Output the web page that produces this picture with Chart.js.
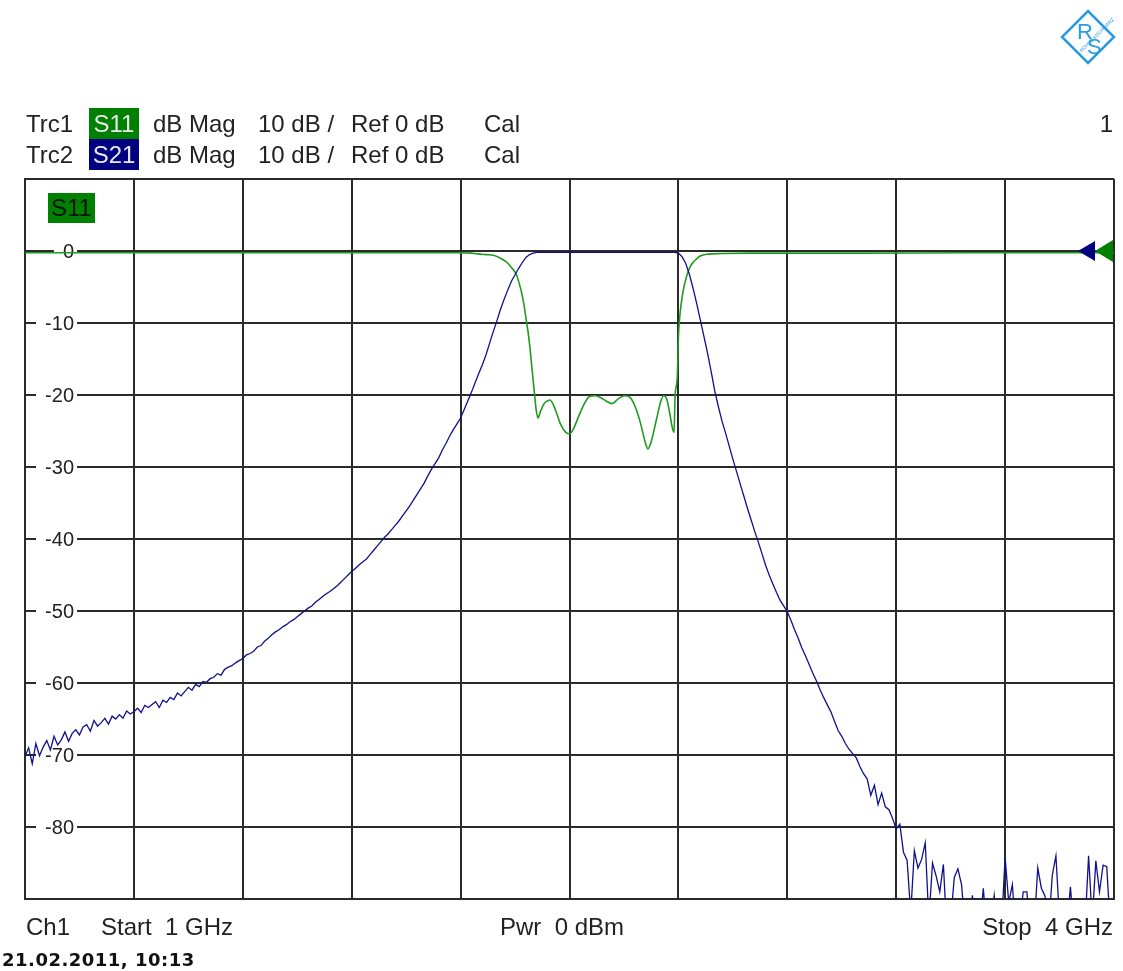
<!DOCTYPE html>
<html>
<head>
<meta charset="utf-8">
<script src="https://cdn.jsdelivr.net/npm/chart.js@4.4.1/dist/chart.umd.min.js"></script>
<style>
  body { margin: 0; background: #fff; }
  #hoja { position: relative; width: 1123px; height: 971px; background: #fff; overflow: hidden; }
  #grafico { position: absolute; left: 0; top: 0; }
  .t { position: absolute; font-family: "Liberation Sans", Arial, sans-serif; font-size: 24px; color: #222; white-space: pre; height: 31px; line-height: 31px; }
  .caja { text-align: center; width: 50px; color: #e8e8e8; }
  #fecha { position: absolute; left: 2px; top: 949px; font-family: "DejaVu Sans", sans-serif; font-weight: bold; font-size: 18px; color: #111; letter-spacing: 0.5px; }
</style>
</head>
<body>
<div id="hoja">
  <canvas id="grafico" width="1123" height="971"></canvas>

  <svg style="position:absolute;left:1060px;top:9px" width="56" height="56" viewBox="0 0 56 56">
    <polygon points="28,2 54,28 28,54 2,28" fill="none" stroke="#2b9be0" stroke-width="2.5"/>
    <text x="17" y="30" font-family="Liberation Sans" font-size="22" fill="#2b9be0">R</text>
    <text x="27" y="45" font-family="Liberation Sans" font-size="22" fill="#2b9be0">S</text>
    <text x="16" y="36" font-family="Liberation Sans" font-size="5" fill="#2b9be0" transform="rotate(-45 28 33)">ROHDE&amp;SCHWARZ</text>
  </svg>

  <div class="t" style="left:26px;top:108px">Trc1</div>
  <div class="t caja" style="left:89px;top:108px;background:#008000">S11</div>
  <div class="t" style="left:153px;top:108px">dB Mag</div>
  <div class="t" style="left:258px;top:108px">10 dB /</div>
  <div class="t" style="left:351px;top:108px">Ref 0 dB</div>
  <div class="t" style="left:484px;top:108px">Cal</div>
  <div class="t" style="right:10px;top:108px">1</div>

  <div class="t" style="left:26px;top:139px">Trc2</div>
  <div class="t caja" style="left:89px;top:139px;background:#000080">S21</div>
  <div class="t" style="left:153px;top:139px">dB Mag</div>
  <div class="t" style="left:258px;top:139px">10 dB /</div>
  <div class="t" style="left:351px;top:139px">Ref 0 dB</div>
  <div class="t" style="left:484px;top:139px">Cal</div>

  <div class="t" style="left:26px;top:911px">Ch1</div>
  <div class="t" style="left:101px;top:911px">Start  1 GHz</div>
  <div class="t" style="left:500px;top:911px">Pwr  0 dBm</div>
  <div class="t" style="right:10px;top:911px">Stop  4 GHz</div>
  <div id="fecha">21.02.2011, 10:13</div>
</div>

<script>
// barrido del analizador (GHz)
const inicioGHz = 1;
const finGHz = 4;

// lineas de reticula
const xReticula = [1, 1.3, 1.6, 1.9, 2.2, 2.5, 2.8, 3.1, 3.4, 3.7, 4];
const yReticula = [10, 0, -10, -20, -30, -40, -50, -60, -70, -80, -90];
const yEtiquetas = [0, -10, -20, -30, -40, -50, -60, -70, -80];

// S21 (dB), un punto cada 10 MHz de 1 a 4 GHz
const s21Db = [
  -70.2, -69.0, -71.2, -68.4, -70.1, -68.9, -68.0, -69.3, -67.4, -68.6,
  -67.9, -66.8, -68.1, -67.0, -66.5, -67.2, -66.1, -65.8, -66.7, -65.2,
  -66.0, -65.5, -64.9, -65.7, -64.6, -65.0, -64.4, -64.9, -63.9, -64.3,
  -64.0, -63.5, -64.1, -63.1, -63.4, -63.0, -62.6, -63.4, -62.4, -62.7,
  -62.0, -62.3, -61.4, -61.8, -61.2, -60.6, -61.0, -60.2, -60.5, -59.8,
  -59.9, -59.4, -59.2, -58.7, -58.9, -58.1, -57.8, -57.6, -57.2, -56.9,
  -56.6, -56.1, -55.9, -55.6, -55.0, -54.8, -54.2, -53.8, -53.3, -52.9,
  -52.6, -52.2, -51.9, -51.5, -51.2, -50.8, -50.4, -50.0, -49.6, -49.3,
  -48.8, -48.4, -48.0, -47.6, -47.3, -46.9, -46.5, -46.0, -45.5, -45.0,
  -44.5, -44.1, -43.6, -43.2, -42.8, -42.2, -41.6, -41.0, -40.4, -39.8,
  -39.3, -38.7, -38.1, -37.5, -36.8, -36.1, -35.4, -34.6, -33.8, -33.0,
  -32.2, -31.2, -30.3, -29.5, -28.7, -27.6, -26.7, -25.7, -24.8, -24.0,
  -23.2, -22.0, -20.8, -19.6, -18.3, -17.0, -15.8, -14.4, -12.8, -11.2,
  -9.7, -8.1, -6.7, -5.4, -4.2, -3.3, -2.4, -1.6, -0.9, -0.5,
  -0.3, -0.2, -0.2, -0.2, -0.2, -0.2, -0.2, -0.2, -0.2, -0.2,
  -0.2, -0.2, -0.2, -0.2, -0.2, -0.2, -0.2, -0.2, -0.2, -0.2,
  -0.2, -0.2, -0.2, -0.2, -0.2, -0.2, -0.2, -0.2, -0.2, -0.2,
  -0.2, -0.2, -0.2, -0.2, -0.2, -0.2, -0.2, -0.2, -0.2, -0.2,
  -0.3, -0.8, -1.7, -3.2, -5.1, -7.2, -9.5, -11.8, -14.1, -16.7,
  -19.4, -21.6, -23.6, -25.3, -27.1, -28.9, -30.6, -32.3, -34.0, -35.7,
  -37.3, -38.9, -40.4, -42.0, -43.6, -45.0, -46.2, -47.4, -48.5, -49.3,
  -50.1, -51.3, -52.6, -53.8, -55.1, -56.2, -57.4, -58.6, -59.7, -60.9,
  -62.0, -63.0, -64.0, -65.3, -66.6, -67.4, -68.4, -69.2, -69.8, -70.4,
  -71.6, -72.6, -73.3, -75.6, -74.2, -76.9, -75.3, -77.2, -77.6, -78.8,
  -80.3, -79.6, -83.5, -84.6, -92.0, -83.3, -85.7, -84.5, -82.2, -93.0,
  -85.0, -86.8, -89.0, -85.2, -95.0, -93.0, -87.0, -85.8, -88.0, -94.0,
  -95.0, -89.5, -95.0, -94.0, -88.5, -95.0, -94.0, -89.5, -95.0, -94.0,
  -84.2, -90.5, -88.0, -95.0, -93.0, -89.0, -89.0, -95.0, -94.0, -85.7,
  -88.5, -89.6, -94.0, -86.7, -84.0, -93.0, -95.0, -94.0, -88.3, -95.0,
  -94.0, -95.0, -94.0, -84.0, -93.0, -84.7, -89.0, -85.3, -85.5, -94.0,
  -95.0
];

// S11: frecuencias (GHz) y valores (dB)
const s11Freq = [
  1.0, 1.3, 1.6, 1.9, 2.2, 2.23, 2.246, 2.27, 2.29, 2.31,
  2.328, 2.34, 2.353, 2.362, 2.369, 2.375, 2.38, 2.386, 2.391, 2.397,
  2.402, 2.408, 2.413, 2.42, 2.43, 2.44, 2.446, 2.455, 2.465, 2.475,
  2.49, 2.501, 2.51, 2.525, 2.54, 2.555, 2.57, 2.584, 2.6, 2.617,
  2.635, 2.652, 2.666, 2.68, 2.695, 2.71, 2.716, 2.725, 2.74, 2.752,
  2.76, 2.768, 2.776, 2.783, 2.788, 2.791, 2.797, 2.8, 2.804, 2.81,
  2.817, 2.827, 2.837, 2.85, 2.86, 2.878, 2.92, 3.0, 3.3, 3.6, 4.0
];
const s11Db = [
  -0.25, -0.25, -0.25, -0.25, -0.25, -0.3, -0.4, -0.5, -0.6, -1.0,
  -1.6, -2.3, -3.2, -4.6, -6.0, -7.6, -9.3, -11.3, -13.4, -16.5,
  -19.0, -22.0, -23.2, -22.3, -21.2, -20.8, -20.7, -21.3, -22.6, -24.0,
  -25.2, -25.4, -24.8, -23.0, -21.3, -20.2, -20.1, -20.3, -20.8, -21.2,
  -20.5, -20.1, -20.3, -21.5, -23.8, -26.8, -27.5, -26.5, -23.3, -20.8,
  -20.1, -20.6, -22.5, -24.5, -25.2, -20.0, -17.5, -12.0, -9.0, -6.5,
  -4.6, -2.8, -1.8, -1.1, -0.7, -0.45, -0.35, -0.3, -0.3, -0.25, -0.25
];

const pasoGHz = (finGHz - inicioGHz) / (s21Db.length - 1);
const puntosS21 = s21Db.map((v, i) => ({ x: inicioGHz + i * pasoGHz, y: v }));
const puntosS11 = s11Db.map((v, i) => ({ x: s11Freq[i], y: v }));

const colorReticula = "#2a2a2a";
const fuente = '"Liberation Sans", Arial, sans-serif';

// etiquetas dentro del diagrama, marcadores de referencia
const marcoPlugin = {
  id: "marco",
  beforeDatasetsDraw(chart) {
    const c = chart.ctx;
    const y = chart.scales.y;
    c.save();
    c.font = "20px " + fuente;
    c.textAlign = "right";
    c.textBaseline = "middle";
    yEtiquetas.forEach((v) => {
      const py = y.getPixelForValue(v);
      const txt = String(v);
      const w = c.measureText(txt).width;
      const der = chart.chartArea.left + 49;
      c.fillStyle = "#fff";
      c.fillRect(der - w - 9, py - 3, w + 12, 6);
      c.fillStyle = "#222";
      c.fillText(txt, der, py + 1);
    });
    c.restore();
  },
  afterDatasetsDraw(chart) {
    const c = chart.ctx;
    const a = chart.chartArea;
    const y0 = chart.scales.y.getPixelForValue(0);
    c.save();
    // etiqueta S11
    c.fillStyle = "#008000";
    c.fillRect(a.left + 23, a.top + 14, 47, 30);
    c.fillStyle = "#111";
    c.font = "24px " + fuente;
    c.textAlign = "center";
    c.textBaseline = "middle";
    c.fillText("S11", a.left + 46.5, a.top + 30);
    // triangulos de nivel de referencia
    c.fillStyle = "#000080";
    c.beginPath();
    c.moveTo(a.right - 36, y0);
    c.lineTo(a.right - 19, y0 - 10);
    c.lineTo(a.right - 19, y0 + 10);
    c.closePath();
    c.fill();
    c.fillStyle = "#008000";
    c.beginPath();
    c.moveTo(a.right - 19, y0);
    c.lineTo(a.right - 1, y0 - 11);
    c.lineTo(a.right - 1, y0 + 11);
    c.closePath();
    c.fill();
    c.restore();
  },
};

const ctx = document.getElementById("grafico").getContext("2d");
new Chart(ctx, {
  type: "line",
  data: {
    datasets: [
      {
        label: "S21",
        data: puntosS21,
        borderColor: "#10108a",
        borderWidth: 1.3,
        pointRadius: 0,
        tension: 0,
      },
      {
        label: "S11",
        data: puntosS11,
        borderColor: "#1f9a1f",
        borderWidth: 1.6,
        pointRadius: 0,
        cubicInterpolationMode: "monotone",
      },
    ],
  },
  options: {
    responsive: false,
    animation: false,
    layout: { padding: { left: 25, top: 179, right: 9, bottom: 72 } },
    plugins: { legend: { display: false }, tooltip: { enabled: false } },
    scales: {
      x: {
        type: "linear",
        min: inicioGHz,
        max: finGHz,
        afterBuildTicks: (s) => { s.ticks = xReticula.map((v) => ({ value: v })); },
        ticks: { display: false },
        grid: { color: colorReticula, lineWidth: 2, drawTicks: false },
        border: { color: colorReticula, width: 2 },
      },
      y: {
        min: -90,
        max: 10,
        afterBuildTicks: (s) => { s.ticks = yReticula.map((v) => ({ value: v })); },
        ticks: { display: false },
        grid: { color: colorReticula, lineWidth: 2, drawTicks: false },
        border: { color: colorReticula, width: 2 },
      },
    },
  },
  plugins: [marcoPlugin],
});
</script>
</body>
</html>
